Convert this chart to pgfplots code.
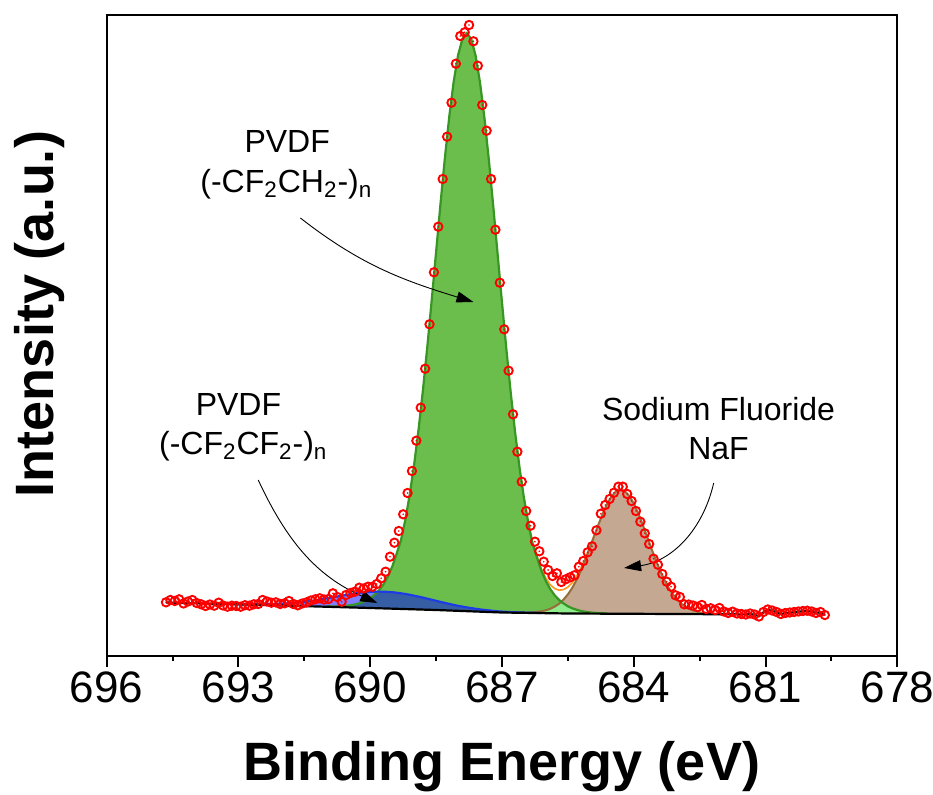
\documentclass[border=0pt]{standalone}
\usepackage{fontspec}
\setmainfont{Liberation Sans}
\usepackage{pgfplots}
\usepackage{pgfplotstable}
\pgfplotsset{compat=1.18}
\usepgfplotslibrary{fillbetween}
\usetikzlibrary{arrows.meta}

\definecolor{gfill}{RGB}{108,190,76}
\definecolor{gline}{RGB}{56,150,36}
\definecolor{bfill}{RGB}{196,168,146}
\definecolor{bline}{RGB}{150,110,60}
\definecolor{blline}{RGB}{30,60,230}
\definecolor{ovl}{RGB}{144,236,140}
\definecolor{envc}{RGB}{255,150,30}

\pgfdeclareplotmark{odot}{%
  \pgfpathcircle{\pgfpointorigin}{\pgfplotmarksize}\pgfusepathqstroke
  \pgfpathcircle{\pgfpointorigin}{0.22\pgfplotmarksize}\pgfusepathqfill}

\pgfplotstableread{
x y
694.65 53.7
694.55 56.0
694.45 55.0
694.35 56.7
694.25 52.5
694.15 54.5
694.05 56.0
693.95 53.0
693.85 51.7
693.75 50.0
693.65 51.5
693.55 50.3
693.45 53.3
693.35 50.5
693.25 49.3
693.15 50.3
693.05 50.0
692.95 49.3
692.85 50.8
692.75 50.3
692.65 51.7
692.55 52.0
692.45 56.0
692.35 54.5
692.25 53.3
692.15 53.7
692.05 52.0
691.95 52.7
691.85 55.0
691.75 52.0
691.65 50.7
691.55 52.5
691.45 53.7
691.35 55.5
691.25 56.7
691.15 57.7
691.05 56.5
690.95 57.0
690.85 62.7
690.75 59.0
690.65 54.3
690.55 61.0
690.45 63.0
690.35 64.3
690.25 68.3
690.15 67.5
690.05 69.3
689.95 69.3
689.85 72.0
689.75 77.7
689.65 84.3
689.55 99.3
689.45 113.3
689.35 125.0
689.25 141.7
689.15 163.0
689.05 185.0
688.95 215.3
688.85 248.3
688.75 287.3
688.65 331.7
688.55 383.7
688.45 429.3
688.35 477.0
688.25 519.3
688.15 553.3
688.05 592.3
687.95 620.0
687.85 623.7
687.75 631.0
687.65 614.7
687.55 590.3
687.45 551.0
687.35 525.3
687.25 477.0
687.15 426.3
687.05 373.3
686.95 326.7
686.85 285.3
686.75 241.7
686.65 204.3
686.55 174.3
686.45 145.0
686.35 130.3
686.25 114.3
686.15 104.7
686.05 94.3
685.95 86.0
685.85 80.0
685.75 82.7
685.65 74.0
685.55 76.7
685.45 78.7
685.35 80.7
685.25 89.3
685.15 95.0
685.05 103.7
684.95 109.7
684.85 125.7
684.75 142.3
684.65 151.0
684.55 157.0
684.45 163.3
684.35 169.3
684.25 169.3
684.15 162.0
684.05 155.0
683.95 145.0
683.85 134.3
683.75 122.7
683.65 112.0
683.55 97.3
683.45 91.3
683.35 82.0
683.25 74.3
683.15 69.3
683.05 60.7
682.95 59.0
682.85 51.7
682.75 51.5
682.65 50.5
682.55 49.0
682.45 51.0
682.35 47.0
682.25 47.7
682.15 46.0
682.05 48.0
681.95 44.5
681.85 43.0
681.75 44.3
681.65 42.5
681.55 42.0
681.45 41.5
681.35 42.5
681.25 41.5
681.15 39.5
681.05 44.0
680.95 46.5
680.85 45.5
680.75 44.0
680.65 42.0
680.55 43.0
680.45 43.5
680.35 44.0
680.25 44.5
680.15 45.0
680.05 45.3
679.95 44.5
679.85 43.0
679.75 44.0
679.65 41.0
}\datatab

\pgfplotstableread{
x y
694.65 53.5
692.0 50.5
690.0 48.0
688.5 46.0
687.0 43.5
685.5 42.5
683.0 42.0
681.45 41.6
681.35 42.0
681.25 41.2
681.15 39.8
681.05 43.5
680.95 46.0
680.85 45.3
680.75 43.8
680.65 42.0
680.55 42.8
680.45 43.3
680.35 43.8
680.25 44.3
680.15 44.8
680.05 45.0
679.95 44.3
679.85 43.0
679.75 43.8
679.65 41.0
}\basetab

\pgfplotstableread{
x y
691.0 49.5
690.8 49.5
690.7 49.7
690.6 50.0
690.5 50.4
690.4 51.1
690.3 52.1
690.2 53.5
690.1 55.3
690.0 58.0
689.9 61.4
689.8 65.7
689.7 71.6
689.6 79.5
689.5 89.3
689.4 102.2
689.3 115.8
689.2 136.4
689.1 161.6
689.0 191.6
688.9 226.4
688.8 265.9
688.7 309.5
688.6 356.1
688.5 404.3
688.4 452.3
688.3 498.2
688.2 539.6
688.1 574.4
688.0 600.9
687.9 617.3
687.8 622.8
687.7 617.0
687.6 600.2
687.5 573.4
687.4 538.3
687.3 496.5
687.2 450.3
687.1 402.0
687.0 353.5
686.9 306.6
686.8 262.9
686.7 223.2
686.6 188.1
686.5 158.0
686.4 132.6
686.3 111.7
686.2 98.0
686.1 84.9
686.0 74.8
685.9 66.8
685.8 60.7
685.7 56.1
685.6 52.6
685.5 49.7
685.4 47.7
685.3 46.2
685.2 45.0
685.1 44.2
685.0 43.6
684.9 43.2
684.8 42.9
684.6 42.5
}\greentab

\pgfplotstableread{
x y
686.7 43.4
686.5 43.4
686.3 43.7
686.2 44.1
686.1 44.7
686.0 45.7
685.9 47.2
685.8 49.4
685.7 52.3
685.6 56.4
685.5 61.6
685.4 68.2
685.3 76.3
685.2 85.7
685.1 96.4
685.0 108.0
684.9 120.1
684.8 132.0
684.7 143.0
684.6 152.6
684.5 160.0
684.4 164.7
684.3 166.3
684.2 164.6
684.1 159.9
684.0 152.5
683.9 142.9
683.8 131.8
683.7 119.8
683.6 107.7
683.5 96.1
683.4 85.4
683.3 75.9
683.2 67.7
683.1 61.1
683.0 55.8
682.9 51.7
682.8 48.7
682.7 46.4
682.6 44.8
682.5 43.7
682.4 43.0
682.3 42.6
682.1 42.1
681.9 41.9
}\browntab

\pgfplotstableread{
x y
693.3 52.0
693.0 51.8
692.7 51.7
692.5 51.7
692.3 51.9
692.1 52.2
691.9 52.6
691.7 53.3
691.6 53.8
691.5 54.3
691.4 54.8
691.3 55.4
691.2 56.1
691.1 56.8
691.0 57.6
690.9 58.3
690.8 59.1
690.7 59.9
690.6 60.7
690.5 61.4
690.4 62.1
690.3 62.8
690.2 63.3
690.1 63.8
690.0 64.1
689.9 64.3
689.8 64.4
689.7 64.3
689.6 64.1
689.5 63.8
689.4 63.3
689.3 62.7
689.2 62.0
689.1 61.2
689.0 60.3
688.9 59.4
688.8 58.4
688.7 57.3
688.6 56.3
688.5 55.2
688.4 54.1
688.3 53.1
688.2 52.1
688.1 51.1
688.0 50.2
687.9 49.4
687.8 48.6
687.7 47.9
687.5 46.6
687.3 45.6
687.1 44.7
686.9 44.1
686.7 43.7
686.4 43.3
686.1 43.0
}\bluetab

\pgfplotstableread{
x y
686.3 43.7
686.2 44.1
686.1 44.7
686.0 45.7
685.9 47.2
685.8 49.4
685.7 52.3
685.6 52.6
685.5 49.7
685.4 47.7
685.3 46.2
685.2 45.0
685.1 44.2
685.0 43.6
684.9 43.2
684.8 42.9
684.6 42.5
}\ovltab

\pgfplotstableread{
x y
686.5 158.2
686.4 133.0
686.3 112.4
686.2 99.1
686.1 86.7
686.0 77.7
685.9 71.2
685.8 67.4
685.7 65.8
685.6 66.4
685.5 68.8
685.4 73.4
685.3 80.0
685.2 88.3
685.1 98.2
685.0 109.2
684.9 120.9
}\envtab

\begin{document}
\begin{tikzpicture}
\begin{axis}[
  scale only axis, width=395.3pt, height=320.5pt,
  xmin=678, xmax=696, ymin=0, ymax=641, x dir=reverse,
  xtick={678,681,684,687,690,693,696},
  minor xtick={679.5,682.5,685.5,688.5,691.5,694.5},
  ytick=\empty, xtick pos=bottom, tick align=outside,
  major tick length=5.5pt, minor tick length=2.5pt,
  every tick/.style={line width=1pt, black},
  axis line style={line width=1pt},
  xticklabel style={font=\fontsize{22}{26}\selectfont, yshift=1pt},
  /pgf/number format/assume math mode=true,
  clip=false,
]
\addplot[name path=base, draw=none, forget plot] table {\basetab};
\addplot[name path=gtop, draw=none, forget plot] table {\greentab};
\addplot[name path=btop, draw=none, forget plot] table {\browntab};
\addplot[name path=otop, draw=none, forget plot] table {\ovltab};
\addplot[name path=bltop, draw=none, forget plot] table {\bluetab};

\addplot[bfill] fill between[of=btop and base, soft clip={domain=681.9:686.7}];
\addplot[gfill] fill between[of=gtop and base, soft clip={domain=684.6:691.0}];
\addplot[ovl] fill between[of=otop and base, soft clip={domain=684.6:686.3}];
\addplot[blue, fill opacity=0.5] fill between[of=bltop and base, soft clip={domain=686.1:693.3}];

\addplot[envc, line width=0.8pt] table {\envtab};
\addplot[bline, line width=1pt] table {\browntab};
\addplot[gline, line width=1.1pt] table {\greentab};
\addplot[blline, line width=1.1pt] table {\bluetab};
\addplot[black, line width=1.1pt] table {\basetab};

\addplot[only marks, mark=odot, mark size=2.1pt, red, line width=0.95pt] table {\datatab};

\node[font=\fontsize{16}{19}\selectfont, anchor=base] at (axis cs:691.89,503) {PVDF};
\node[font=\fontsize{16}{19}\selectfont, anchor=base] at (axis cs:691.91,464) {(-CF\textsubscript{2}CH\textsubscript{2}-)\textsubscript{n}};
\node[font=\fontsize{16}{19}\selectfont, anchor=base] at (axis cs:693.0,241) {PVDF};
\node[font=\fontsize{16}{19}\selectfont, anchor=base] at (axis cs:692.89,202) {(-CF\textsubscript{2}CF\textsubscript{2}-)\textsubscript{n}};
\node[font=\fontsize{16}{19}\selectfont, anchor=base] at (axis cs:682.07,236) {Sodium Fluoride};
\node[font=\fontsize{16}{19}\selectfont, anchor=base] at (axis cs:682.07,197) {NaF};

\draw[-{Triangle[length=8.5pt,width=5.5pt]}, line width=0.45pt] (axis cs:691.59,438) to[out=-38,in=163] (axis cs:687.65,354);
\draw[-{Triangle[length=8.5pt,width=5.5pt]}, line width=0.45pt] (axis cs:692.55,176) to[out=-65,in=156] (axis cs:689.84,53);
\draw[-{Triangle[length=8.5pt,width=5.5pt]}, line width=0.45pt] (axis cs:682.18,173) to[out=-103,in=8] (axis cs:684.22,88);

\node[font=\fontsize{27}{32}\selectfont\bfseries, anchor=base] at (axis cs:687,-124) {Binding Energy (eV)};
\node[font=\fontsize{27}{32}\selectfont\bfseries, anchor=base, rotate=90] at (axis cs:697.22,342) {Intensity (a.u.)};
\end{axis}
\pgfresetboundingbox
\path[use as bounding box] ([shift={(-53.35pt,-69pt)}]current axis.south west) rectangle ([shift={(17.85pt,7.5pt)}]current axis.north east);
\end{tikzpicture}
\end{document}
